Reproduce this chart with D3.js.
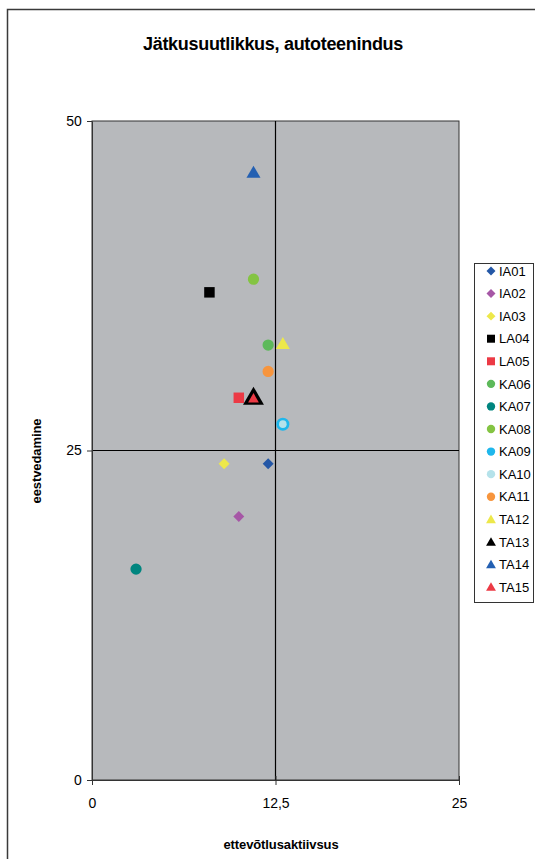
<!DOCTYPE html>
<html><head><meta charset="utf-8">
<script src="https://cdn.jsdelivr.net/npm/d3@7"></script>
<style>body{margin:0;background:#fff;font-family:"Liberation Sans",Arial,sans-serif;}</style>
</head><body><svg id="c" width="535" height="859"></svg>
<script>
const names = ["IA01","IA02","IA03","LA04","LA05","KA06","KA07","KA08","KA09","KA10","KA11","TA12","TA13","TA14","TA15"];
const xValues = [12,10,9,8,10,12,3,11,13,13,12,13,11,11,11];
const yValues = [24,20,24,37,29,33,16,38,27,27,31,33,29,46,29];
const shapes = ["diamond","diamond","diamond","square","square","circle","circle","circle","circle","circle","circle","triangle","triangle","triangle","triangle"];
const colors = ["#2457A6","#A657A6","#EDE84A","#000000","#EC3A45","#5DB95A","#00857F","#84C443","#1FB7EC","#B5E2EA","#F7953D","#EDE84A","#000000","#2460B2","#EC3A45"];
const xTicks = [0,12.5,25];
const yTicks = [0,25,50];
const title = "Jätkusuutlikkus, autoteenindus";
const xLabel = "ettevõtlusaktiivsus";
const yLabel = "eestvedamine";

const svg = d3.select("#c");
svg.append("rect").attr("x",7.5).attr("y",9.5).attr("width",540).attr("height",860)
  .attr("fill","#fff").attr("stroke","#3a3a3a").attr("stroke-width",1.5);

const x = d3.scaleLinear().domain([0,25]).range([92,459]);
const y = d3.scaleLinear().domain([0,50]).range([780,121]);

svg.append("rect").attr("x",x(0)).attr("y",y(50)).attr("width",x(25)-x(0)).attr("height",y(0)-y(50))
  .attr("fill","#B7B9BC").attr("stroke","#333").attr("stroke-width",1);

svg.append("line").attr("x1",x(12.5)).attr("x2",x(12.5)).attr("y1",y(50)).attr("y2",y(0)).attr("stroke","#000").attr("stroke-width",1.2);
svg.append("line").attr("x1",x(0)).attr("x2",x(25)).attr("y1",y(25)).attr("y2",y(25)).attr("stroke","#000").attr("stroke-width",1.2);

const fmt = d => String(d).replace(".",",");
const xa = svg.append("g").attr("transform",`translate(0,${y(0)})`)
  .call(d3.axisBottom(x).tickValues(xTicks).tickFormat(fmt).tickSize(5).tickSizeOuter(0));
const ya = svg.append("g").attr("transform",`translate(${x(0)},0)`)
  .call(d3.axisLeft(y).tickValues(yTicks).tickFormat(fmt).tickSize(5).tickSizeOuter(0));
[xa,ya].forEach(a=>{
  a.select(".domain").attr("stroke","#333");
  a.selectAll("line").attr("stroke","#333");
  a.selectAll("text").attr("font-family","'Liberation Sans',Arial,sans-serif").attr("font-size",14).attr("fill","#000");
});
xa.selectAll("text").attr("dy","1.45em");
ya.selectAll("text").attr("dx","-0.15em");
xa.selectAll(".tick line").attr("y1",-4);

svg.append("text").attr("x",273).attr("y",50).attr("text-anchor","middle")
  .attr("font-size",18).attr("font-weight","bold").attr("letter-spacing","-0.3").text(title);
svg.append("text").attr("x",281).attr("y",849).attr("text-anchor","middle")
  .attr("font-size",13).attr("font-weight","bold").attr("letter-spacing","-0.1").text(xLabel);
svg.append("text").attr("transform",`translate(41,461) rotate(-90)`).attr("text-anchor","middle")
  .attr("font-size",13).attr("font-weight","bold").attr("letter-spacing","-0.1").text(yLabel);

function drawMarker(g, i, cx, cy, legend){
  const s = shapes[i];
  let size, rot = 0, type;
  if (s==="diamond"){ type=d3.symbolSquare; size=legend?40:60; rot=45; }
  else if (s==="square"){ type=d3.symbolSquare; size=legend?64:110; }
  else if (s==="circle"){ type=d3.symbolCircle; size=legend?55:100; }
  else { type=d3.symbolTriangle; size=legend?42:85; }
  g.append("path").attr("d",d3.symbol().type(type).size(size)())
    .attr("transform",`translate(${cx},${cy+(s==="triangle"&&legend?1:0)}) rotate(${rot})`).attr("fill",colors[i]);
}
const pts = svg.append("g");
names.forEach((n,i)=>{
  const cx = x(xValues[i]), cy = y(yValues[i]);
  if (n==="TA13"){
    pts.append("path").attr("d",d3.symbol().type(d3.symbolTriangle).size(190)())
      .attr("transform",`translate(${cx},${cy+1})`).attr("fill","#000");
  } else if (n==="TA15"){
    pts.append("path").attr("d",d3.symbol().type(d3.symbolTriangle).size(50)())
      .attr("transform",`translate(${cx},${cy+1.5})`).attr("fill",colors[i]);
  } else if (n==="KA09"){
    pts.append("circle").attr("cx",cx).attr("cy",cy).attr("r",6.5).attr("fill",colors[i]);
  } else if (n==="KA10"){
    pts.append("circle").attr("cx",cx).attr("cy",cy).attr("r",3.8).attr("fill",colors[i]);
  } else {
    drawMarker(pts,i,cx,cy,false);
  }
});

const lg = svg.append("g");
lg.append("rect").attr("x",474.5).attr("y",263.5).attr("width",59).attr("height",339)
  .attr("fill","#fff").attr("stroke","#333").attr("stroke-width",1);
const ly = d3.scalePoint().domain(names).range([271,587]);
names.forEach((n,i)=>{
  const cy = ly(n);
  drawMarker(lg,i,491,cy,true);
  lg.append("text").attr("x",499).attr("y",cy+4.7).attr("font-size",13).text(n);
});
</script></body></html>
